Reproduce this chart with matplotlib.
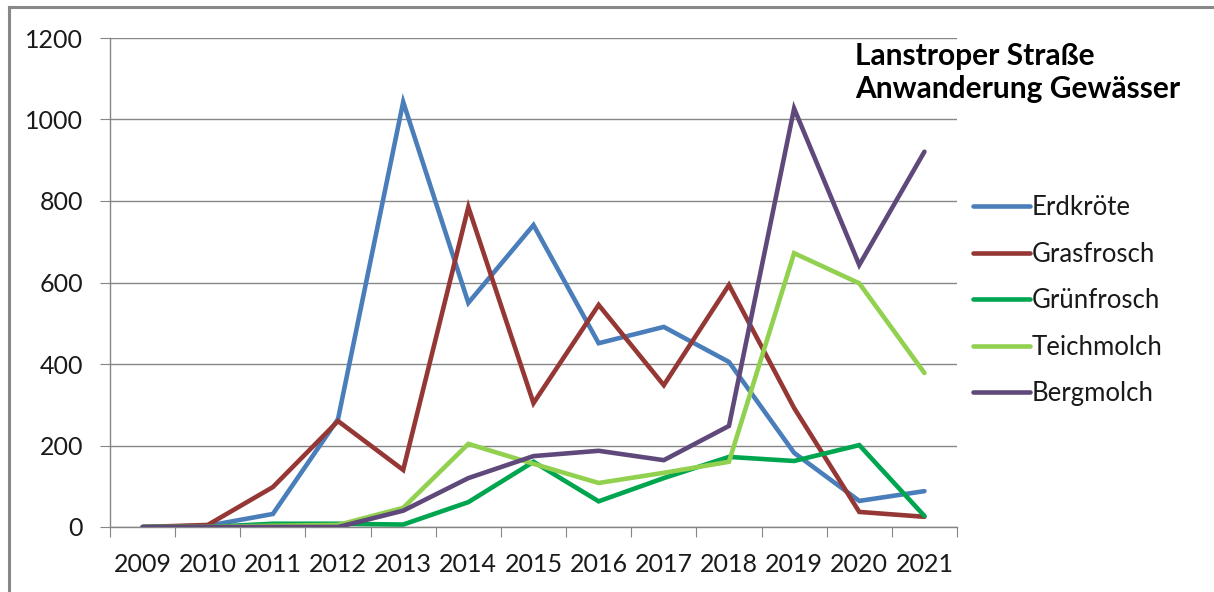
"""
Lanstroper Straße - Anwanderung Gewässer (Amphibien-Zählung 2009-2021).
Nachbau eines Excel-Liniendiagramms, gespeichert als out.png.
"""
import numpy as np
import matplotlib.pyplot as plt
from matplotlib.lines import Line2D

# Daten
years = ["2009", "2010", "2011", "2012", "2013", "2014", "2015",
         "2016", "2017", "2018", "2019", "2020", "2021"]
erdkroete = [0, 3, 32, 265, 1043, 550, 741, 451, 491, 405, 182, 64, 88]
grasfrosch = [0, 5, 98, 260, 140, 785, 304, 545, 348, 594, 292, 37, 25]
gruenfrosch = [0, 0, 8, 8, 6, 61, 160, 63, 120, 172, 162, 201, 27]
teichmolch = [0, 0, 3, 5, 47, 204, 155, 108, 133, 160, 672, 598, 378]
bergmolch = [0, 0, 0, 0, 40, 120, 174, 187, 164, 248, 1027, 643, 921]

series = [
    ("Erdkröte", erdkroete, "#4a7ebb"),
    ("Grasfrosch", grasfrosch, "#953735"),
    ("Grünfrosch", gruenfrosch, "#00a550"),
    ("Teichmolch", teichmolch, "#92d050"),
    ("Bergmolch", bergmolch, "#5f497a"),
]

plt.rcParams['font.family'] = ['Lato', 'DejaVu Sans']

W, H = 1214, 592
fig = plt.figure(figsize=(W / 100, H / 100), dpi=100)
ax = fig.add_axes([110 / W, 1 - 527 / H, (957 - 110) / W, (527 - 38) / H])

x = np.arange(len(years))
for name, vals, col in series:
    ax.plot(x, vals, color=col, lw=3.3, label=name, solid_capstyle='round',
            solid_joinstyle='miter', zorder=3)

grid_col = "#868686"
ax.set_ylim(0, 1200)
ax.set_yticks(np.arange(0, 1201, 200))
ax.set_xlim(-0.5, len(years) - 0.5)
ax.set_xticks(np.arange(-0.5, len(years), 1.0))
ax.set_xticklabels([])
ax.set_xticks(x, minor=True)
ax.set_xticklabels(years, minor=True)
ax.grid(axis='y', color=grid_col, lw=1.0, zorder=1)

ax.tick_params(axis='y', length=7.5, color=grid_col, labelsize=18, pad=12,
               labelcolor="#1a1a1a")
ax.tick_params(axis='x', which='major', length=7.5, color=grid_col)
ax.tick_params(axis='x', which='minor', length=0, labelsize=18, pad=19,
               labelcolor="#1a1a1a")

for s in ["top", "right"]:
    ax.spines[s].set_visible(False)
for s in ["left", "bottom"]:
    ax.spines[s].set_color(grid_col)
    ax.spines[s].set_linewidth(1.0)

# Titel
fig.text(855 / W, 1 - 42 / H, "Lanstroper Straße\nAnwanderung Gewässer",
         fontsize=21.5, fontweight='bold', ha='left', va='top', linespacing=1.22)

# Legende
handles = [Line2D([], [], color=c, lw=3.3, solid_capstyle='round') for _, _, c in series]
fig.legend(handles, [n for n, _, _ in series], loc='upper left',
           bbox_to_anchor=(973 / W, 1 - 195 / H), frameon=False, fontsize=18.5,
           handlelength=2.2, handletextpad=0.1, labelspacing=0.84, borderpad=0,
           borderaxespad=0, labelcolor="#1a1a1a")

# Rahmen wie im Original (nur oben und links sichtbar)
fig.add_artist(Line2D([9 / W, 1], [1 - 7 / H, 1 - 7 / H], color="#888888", lw=2.2))
fig.add_artist(Line2D([9 / W, 9 / W], [0, 1 - 7 / H], color="#888888", lw=2.2))

fig.savefig("out.png", dpi=100)
